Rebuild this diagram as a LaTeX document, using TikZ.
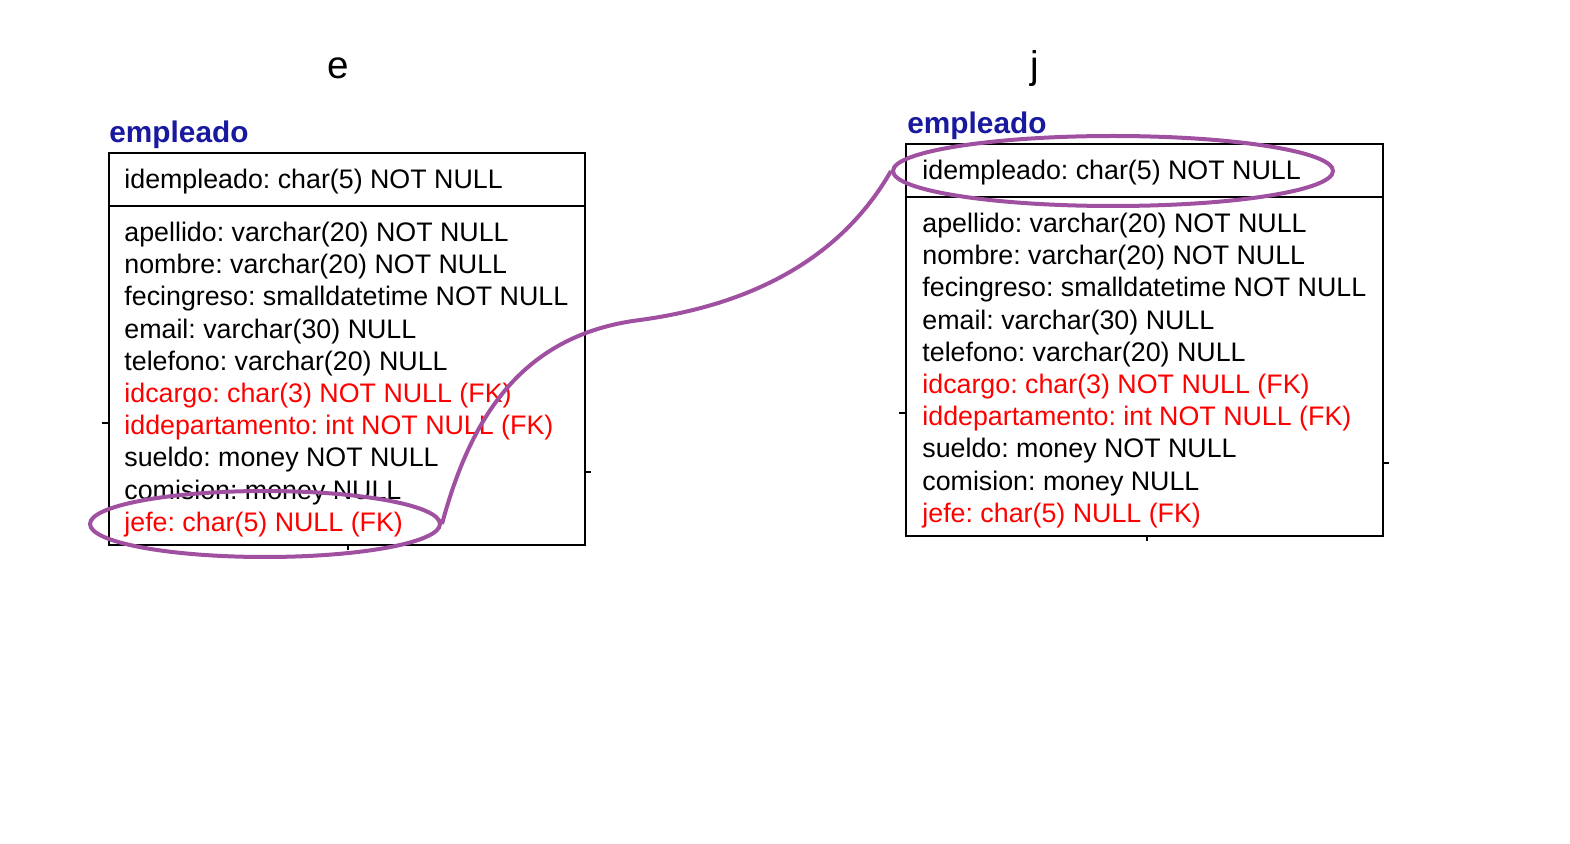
\documentclass[tikz,border=0pt]{standalone}
\usepackage{fontspec}
\setmainfont{Liberation Sans}
\usetikzlibrary{shapes.geometric}
\definecolor{hdrblue}{RGB}{25,25,160}
\definecolor{fkred}{RGB}{255,0,0}
\definecolor{hlpurple}{RGB}{160,80,160}
\frenchspacing
\begin{document}
\begin{tikzpicture}[x=0.5pt,y=-0.5pt,
  row/.style={anchor=base west, inner sep=0pt, font=\fontsize{13.4}{16}\selectfont},
  pk/.style={row, text=black},
  fk/.style={row, text=fkred},
  hdr/.style={anchor=base west, inner sep=0pt, font=\fontsize{14.9}{17}\selectfont\bfseries, text=hdrblue},
  tbl/.style={draw, line width=1pt, inner sep=0pt},
  tick/.style={line width=0.8pt},
  hl/.style={draw=hlpurple, line width=2pt, ellipse, inner sep=0pt},
  hlline/.style={draw=hlpurple, line width=2pt},
  alias/.style={anchor=base west, inner sep=0pt, font=\fontsize{19.3}{22}\selectfont}]
\useasboundingbox[fill=white] (0,0) rectangle (1570,844);

% aliases
\node[alias] (aliasE) at (327,79) {e};
\node[alias] (aliasJ) at (1030,79) {j};

% left table
\node[hdr] (eHdr) at (109,143) {empleado};
\node[tbl, minimum width=238pt, minimum height=196pt] (eBox) at (347,349) {};
\draw[line width=1pt] (109,206) -- (585,206);
\node[pk] (eId) at (124,189) {idempleado: char(5) NOT NULL};
\foreach \t/\s [count=\i from 0] in {
  apellido: varchar(20) NOT NULL/pk,
  nombre: varchar(20) NOT NULL/pk,
  fecingreso: smalldatetime NOT NULL/pk,
  email: varchar(30) NULL/pk,
  telefono: varchar(20) NULL/pk,
  idcargo: char(3) NOT NULL (FK)/fk,
  iddepartamento: int NOT NULL (FK)/fk,
  sueldo: money NOT NULL/pk,
  comision: money NULL/pk,
  jefe: char(5) NULL (FK)/fk}
  \node[\s] (eRow\i) at (124,{241.5+32.2*\i}) {\t};
\draw[tick] (eBox.west |- 0,423) -- ++(-6,0);
\draw[tick] (eBox.east |- 0,472) -- ++(5,0);
\draw[tick] (348,545) -- ++(0,5);

% right table
\node[hdr] (jHdr) at (907,134) {empleado};
\node[tbl, minimum width=238.5pt, minimum height=196pt] (jBox) at (1144.5,340) {};
\draw[line width=1pt] (906,197) -- (1383,197);
\node[pk] (jId) at (922,180) {idempleado: char(5) NOT NULL};
\foreach \t/\s [count=\i from 0] in {
  apellido: varchar(20) NOT NULL/pk,
  nombre: varchar(20) NOT NULL/pk,
  fecingreso: smalldatetime NOT NULL/pk,
  email: varchar(30) NULL/pk,
  telefono: varchar(20) NULL/pk,
  idcargo: char(3) NOT NULL (FK)/fk,
  iddepartamento: int NOT NULL (FK)/fk,
  sueldo: money NOT NULL/pk,
  comision: money NULL/pk,
  jefe: char(5) NULL (FK)/fk}
  \node[\s] (jRow\i) at (922,{232.5+32.2*\i}) {\t};
\draw[tick] (jBox.west |- 0,413) -- ++(-6,0);
\draw[tick] (jBox.east |- 0,463) -- ++(5,0);
\draw[tick] (1147,536) -- ++(0,5);

% highlights
\node[hl, minimum width=175pt, minimum height=33pt] (hlJefe) at (265,524) {};
\node[hl, minimum width=220pt, minimum height=35pt] (hlId) at (1113,171) {};
\coordinate (mid) at (640,320);
\draw[hlline] (hlJefe.east) .. controls (470,420) and (520,335) .. (mid)
  .. controls (750,305) and (840,260) .. (hlId.west);
\end{tikzpicture}
\end{document}
